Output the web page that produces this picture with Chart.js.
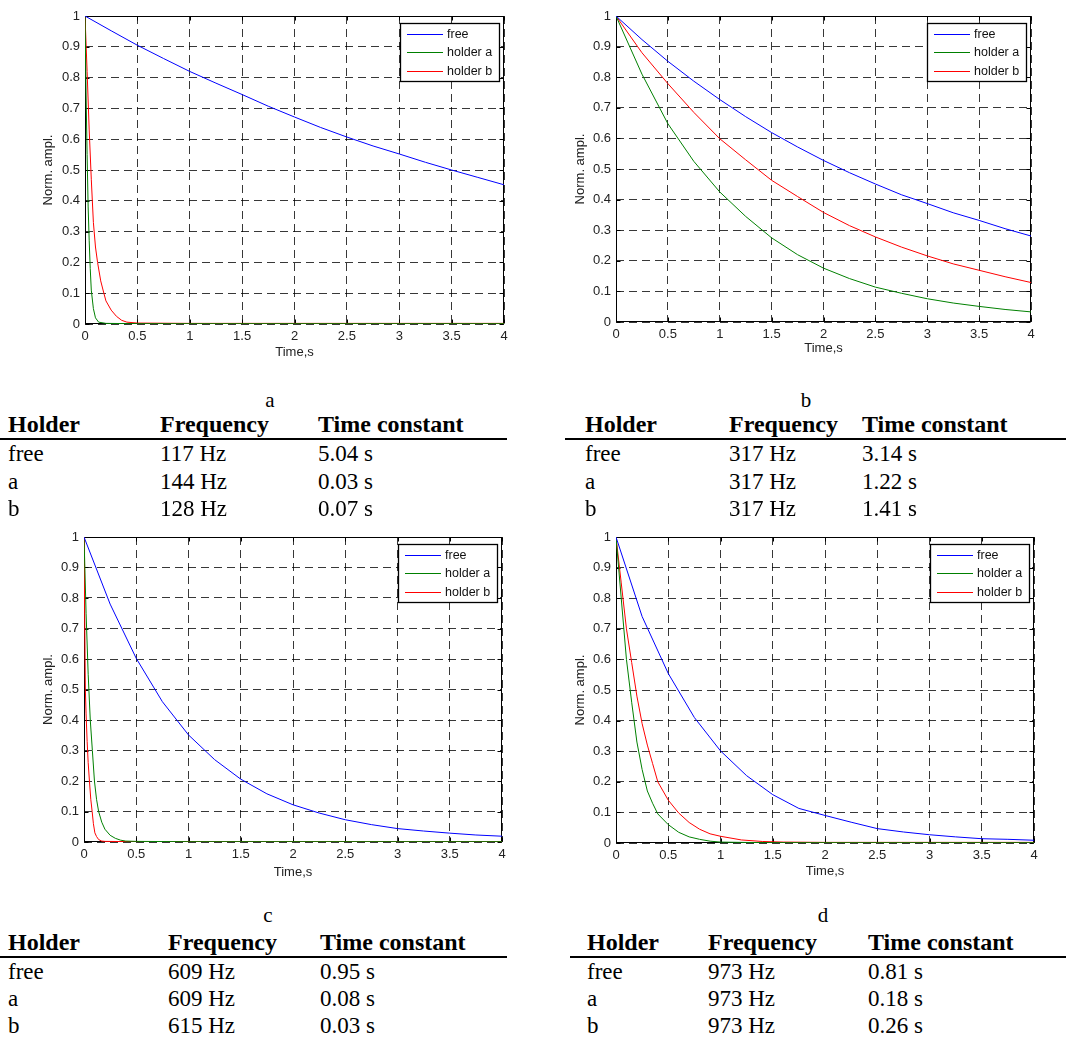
<!DOCTYPE html>
<html>
<head>
<meta charset="utf-8">
<script src="https://cdn.jsdelivr.net/npm/chart.js@4.4.0/dist/chart.umd.min.js"></script>
<style>
  body { margin: 0; background: #fff; }
  #page { position: relative; width: 1066px; height: 1037px; overflow: hidden; background: #fff;
          font-family: "Liberation Serif", "Times New Roman", serif; color: #000; }
  .panel { position: absolute; width: 533px; height: 370px; }
  .panel canvas { display: block; }
  .txt { position: absolute; white-space: nowrap; font-size: 23px; line-height: 1; transform: translateY(-50%); }
  .hd { font-weight: bold; font-size: 24px; }
  .cap { position: absolute; font-size: 21px; line-height: 1; transform: translate(-50%, -50%); }
  .rule { position: absolute; height: 2px; background: #000; }
</style>
</head>
<body>
<div id="page">
  <div class="panel" style="left:0;top:0"><canvas id="chartA" width="533" height="370"></canvas></div>
  <div class="panel" style="left:533px;top:0"><canvas id="chartB" width="533" height="370"></canvas></div>
  <div class="panel" style="left:0;top:520px"><canvas id="chartC" width="533" height="370"></canvas></div>
  <div class="panel" style="left:533px;top:520px"><canvas id="chartD" width="533" height="370"></canvas></div>
</div>
<script>
// x ticks / y ticks
const xTicks = [0, 0.5, 1, 1.5, 2, 2.5, 3, 3.5, 4];
const yTicks = [0, 0.1, 0.2, 0.3, 0.4, 0.5, 0.6, 0.7, 0.8, 0.9, 1];
const seriesNames = ['free', 'holder a', 'holder b'];
const seriesColors = ['#0000ff', '#008000', '#ff0000'];

// common time grid for the slow curves
const tGrid = [0, 0.25, 0.5, 0.75, 1, 1.25, 1.5, 1.75, 2, 2.25, 2.5, 2.75, 3, 3.25, 3.5, 3.75, 4];

// panel a
const aFree = [1, 0.952, 0.905, 0.862, 0.820, 0.782, 0.745, 0.707, 0.672, 0.638, 0.607, 0.578, 0.552, 0.525, 0.500, 0.476, 0.452];
const aHolderAT = [0, 0.01, 0.02, 0.03, 0.04, 0.05, 0.06, 0.08, 0.1, 0.13, 0.2, 0.5, 1, 2, 3, 4];
const aHolderAY = [1, 0.75, 0.55, 0.38, 0.27, 0.18, 0.11, 0.05, 0.02, 0.006, 0.002, 0.001, 0.001, 0.001, 0.001, 0.001];
const aHolderBT = [0, 0.02, 0.04, 0.06, 0.08, 0.1, 0.12, 0.15, 0.18, 0.2, 0.25, 0.3, 0.35, 0.4, 0.5, 1, 2, 3, 4];
const aHolderBY = [1, 0.82, 0.63, 0.47, 0.33, 0.25, 0.2, 0.14, 0.1, 0.075, 0.045, 0.025, 0.012, 0.006, 0.003, 0.002, 0.002, 0.002, 0.002];

// panel b
const bFree = [1, 0.923, 0.852, 0.787, 0.727, 0.671, 0.619, 0.572, 0.528, 0.488, 0.451, 0.416, 0.387, 0.357, 0.332, 0.305, 0.281];
const bHolderA = [1, 0.81, 0.648, 0.525, 0.425, 0.345, 0.275, 0.22, 0.176, 0.142, 0.114, 0.094, 0.076, 0.062, 0.051, 0.041, 0.033];
const bHolderB = [1, 0.88, 0.779, 0.685, 0.599, 0.53, 0.463, 0.41, 0.358, 0.315, 0.278, 0.245, 0.216, 0.19, 0.169, 0.148, 0.129];

// panel c
const cFree = [1, 0.78, 0.602, 0.46, 0.351, 0.27, 0.206, 0.158, 0.122, 0.095, 0.073, 0.057, 0.044, 0.036, 0.029, 0.023, 0.019];
const cHolderAT = [0, 0.02, 0.04, 0.06, 0.08, 0.1, 0.12, 0.14, 0.17, 0.2, 0.25, 0.3, 0.35, 0.4, 0.5, 1, 2, 3, 4];
const cHolderAY = [1, 0.75, 0.55, 0.4, 0.3, 0.2, 0.14, 0.1, 0.065, 0.042, 0.022, 0.012, 0.006, 0.003, 0.002, 0.001, 0.001, 0.001, 0.001];
const cHolderBT = [0, 0.005, 0.013, 0.02, 0.03, 0.04, 0.052, 0.065, 0.078, 0.09, 0.104, 0.12, 0.14, 0.17, 0.2, 0.5, 1.2, 2, 3, 4];
const cHolderBY = [1, 0.8, 0.5, 0.42, 0.33, 0.26, 0.2, 0.14, 0.1, 0.06, 0.03, 0.018, 0.008, 0.003, 0.002, 0.001, 0.001, 0.001, 0.001, 0.001];

// panel d
const dFree = [1, 0.74, 0.554, 0.41, 0.301, 0.22, 0.158, 0.113, 0.09, 0.068, 0.047, 0.036, 0.027, 0.02, 0.014, 0.012, 0.009];
const dHolderAT = [0, 0.05, 0.1, 0.15, 0.2, 0.25, 0.3, 0.35, 0.4, 0.5, 0.6, 0.7, 0.8, 0.9, 1, 1.2, 1.5, 2, 3, 4];
const dHolderAY = [1, 0.8, 0.6, 0.46, 0.33, 0.24, 0.17, 0.13, 0.095, 0.06, 0.035, 0.02, 0.012, 0.006, 0.003, 0.002, 0.001, 0.001, 0.001, 0.001];
const dHolderBT = [0, 0.05, 0.1, 0.15, 0.2, 0.25, 0.3, 0.35, 0.4, 0.5, 0.6, 0.7, 0.8, 0.9, 1, 1.2, 1.4, 1.6, 2, 3, 4];
const dHolderBY = [1, 0.85, 0.7, 0.59, 0.48, 0.39, 0.32, 0.26, 0.2, 0.14, 0.098, 0.067, 0.045, 0.03, 0.022, 0.01, 0.005, 0.003, 0.002, 0.002, 0.002];

// tables under each plot
const captions = ['a', 'b', 'c', 'd'];
const headers = ['Holder', 'Frequency', 'Time constant'];
const holders = ['free', 'a', 'b'];
const freqA = [117, 144, 128], tauA = [5.04, 0.03, 0.07];
const freqB = [317, 317, 317], tauB = [3.14, 1.22, 1.41];
const freqC = [609, 609, 615], tauC = [0.95, 0.08, 0.03];
const freqD = [973, 973, 973], tauD = [0.81, 0.18, 0.26];

const pts = (t, y) => t.map((v, i) => ({ x: v, y: y[i] }));
const sansFont = '"Liberation Sans", Arial, sans-serif';

// box around the axes, inward ticks, and the legend (MATLAB look)
const framePlugin = {
  id: 'frame',
  beforeDatasetsDraw(chart) {
    const { ctx, chartArea: a, scales } = chart;
    const L = Math.round(a.left) + 0.5, R = Math.round(a.right) - 0.5;
    const T = Math.round(a.top) + 0.5, B = Math.round(a.bottom) - 0.5;
    ctx.save();
    ctx.strokeStyle = '#000';
    ctx.lineWidth = 1;
    ctx.strokeRect(L, T, R - L, B - T);
    ctx.beginPath();
    xTicks.forEach(v => {
      const px = Math.round(scales.x.getPixelForValue(v)) + 0.5;
      ctx.moveTo(px, B); ctx.lineTo(px, B - 4);
      ctx.moveTo(px, T); ctx.lineTo(px, T + 4);
    });
    yTicks.forEach(v => {
      const py = Math.round(scales.y.getPixelForValue(v)) + 0.5;
      ctx.moveTo(L, py); ctx.lineTo(L + 4, py);
      ctx.moveTo(R, py); ctx.lineTo(R - 4, py);
    });
    ctx.stroke();
    ctx.restore();
  },
  afterDraw(chart) {
    const { ctx, chartArea: a } = chart;
    ctx.save();
    ctx.font = '12.5px ' + sansFont;
    const tw = Math.max(...chart.data.datasets.map(d => ctx.measureText(d.label).width));
    const w = Math.round(47 + tw + 7), h = 58;
    const x0 = Math.round(a.right) - 5 - w, y0 = Math.round(a.top) + 7;
    ctx.fillStyle = '#fff';
    ctx.fillRect(x0, y0, w, h);
    ctx.strokeStyle = '#000';
    ctx.lineWidth = 1.3;
    ctx.strokeRect(x0 + 0.5, y0 + 0.5, w, h);
    chart.data.datasets.forEach((d, i) => {
      const y = Math.round(y0 + 11 + i * 18.4);
      ctx.strokeStyle = seriesColors[i];
      ctx.lineWidth = 1;
      ctx.beginPath();
      ctx.moveTo(x0 + 7, y + 0.5);
      ctx.lineTo(x0 + 43, y + 0.5);
      ctx.stroke();
      ctx.fillStyle = '#111';
      ctx.textBaseline = 'middle';
      ctx.fillText(d.label, x0 + 47, y + 1);
    });
    ctx.restore();
  }
};

const fmt = v => String(+Number(v).toFixed(2));

function makeChart(id, series, box) {
  const tickFont = { family: sansFont, size: 13 };
  return new Chart(document.getElementById(id), {
    type: 'line',
    data: {
      datasets: series.map((s, i) => ({
        label: seriesNames[i],
        data: pts(s[0], s[1]),
        borderColor: seriesColors[i],
        borderWidth: 1,
        pointRadius: 0,
        tension: 0,
        fill: false
      }))
    },
    options: {
      responsive: false,
      animation: false,
      events: [],
      layout: { padding: { top: box.top, right: box.right, left: 0, bottom: 0 } },
      plugins: { legend: { display: false }, tooltip: { enabled: false } },
      scales: {
        x: {
          type: 'linear', min: 0, max: 4,
          afterBuildTicks: s => { s.ticks = xTicks.map(v => ({ value: v })); },
          afterFit: s => { s.height = box.xh; },
          ticks: { color: '#222', font: tickFont, padding: 5, maxRotation: 0, autoSkip: false, callback: fmt },
          grid: { color: 'rgba(0,0,0,0.78)', lineWidth: 1, drawTicks: false },
          border: { display: false, dash: [8, 5] },
          title: { display: true, text: 'Time,s', color: '#222', font: tickFont, padding: { top: 0, bottom: box.xTitle } }
        },
        y: {
          type: 'linear', min: 0, max: 1,
          afterBuildTicks: s => { s.ticks = yTicks.map(v => ({ value: v })); },
          afterFit: s => { s.width = box.yw; },
          ticks: { color: '#222', font: tickFont, padding: 5, autoSkip: false, callback: fmt },
          grid: { color: 'rgba(0,0,0,0.78)', lineWidth: 1, drawTicks: false },
          border: { display: false, dash: [8, 5] },
          title: { display: true, text: 'Norm. ampl.', color: '#222', font: tickFont, padding: { top: box.yTitle, bottom: 0 } }
        }
      }
    },
    plugins: [framePlugin]
  });
}

makeChart('chartA', [[tGrid, aFree], [aHolderAT, aHolderAY], [aHolderBT, aHolderBY]],
  { top: 16, right: 29, yw: 85, xh: 46, xTitle: 10, yTitle: 41 });
makeChart('chartB', [[tGrid, bFree], [tGrid, bHolderA], [tGrid, bHolderB]],
  { top: 16, right: 35, yw: 83, xh: 48, xTitle: 14, yTitle: 40 });
makeChart('chartC', [[tGrid, cFree], [cHolderAT, cHolderAY], [cHolderBT, cHolderBY]],
  { top: 17, right: 31, yw: 84, xh: 48, xTitle: 10, yTitle: 41 });
makeChart('chartD', [[tGrid, dFree], [dHolderAT, dHolderAY], [dHolderBT, dHolderBY]],
  { top: 17, right: 32, yw: 83, xh: 47, xTitle: 11, yTitle: 40 });

// tables
const page = document.getElementById('page');
function addEl(cls, text, x, y) {
  const el = document.createElement('div');
  el.className = cls;
  el.textContent = text;
  el.style.left = x + 'px';
  el.style.top = y + 'px';
  page.appendChild(el);
  return el;
}
function makeTable(k, freq, tau, lay) {
  addEl('cap', captions[k], lay.capX, lay.capY);
  headers.forEach((h, j) => addEl('txt hd', h, lay.cols[j], lay.headY));
  const r = addEl('rule', '', lay.ruleX[0], lay.ruleY);
  r.style.width = (lay.ruleX[1] - lay.ruleX[0]) + 'px';
  holders.forEach((h, i) => {
    const y = lay.rowY[i];
    addEl('txt', h, lay.cols[0], y);
    addEl('txt', freq[i] + ' Hz', lay.cols[1], y);
    addEl('txt', tau[i].toFixed(2) + ' s', lay.cols[2], y);
  });
}
makeTable(0, freqA, tauA, { capX: 270, capY: 400, cols: [8, 160, 318], headY: 424, ruleX: [0, 507], ruleY: 438, rowY: [453, 481, 508] });
makeTable(1, freqB, tauB, { capX: 806, capY: 400, cols: [585, 729, 862], headY: 424, ruleX: [565, 1066], ruleY: 438, rowY: [453, 481, 508] });
makeTable(2, freqC, tauC, { capX: 268, capY: 915, cols: [8, 168, 320], headY: 942, ruleX: [0, 507], ruleY: 956, rowY: [971, 998, 1025] });
makeTable(3, freqD, tauD, { capX: 823, capY: 915, cols: [587, 708, 868], headY: 942, ruleX: [570, 1066], ruleY: 956, rowY: [971, 998, 1025] });
</script>
</body>
</html>
